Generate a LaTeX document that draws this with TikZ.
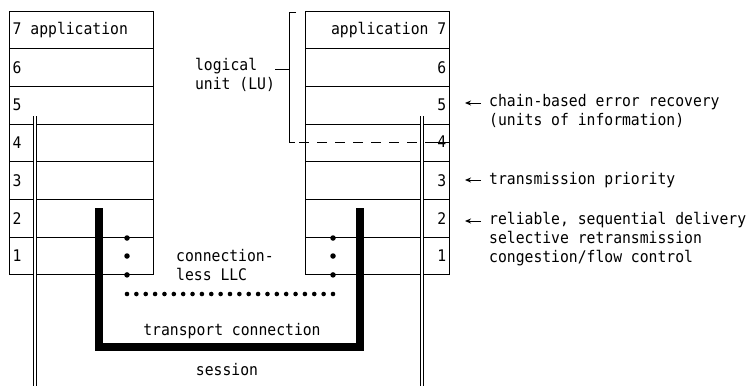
\documentclass[tikz,border=0pt]{standalone}
\usepackage{fontspec}
\newfontfamily\monofont[FakeStretch=0.92]{DejaVu Sans Mono}
\usetikzlibrary{arrows.meta}
\tikzset{
  txt/.style={font=\monofont\fontsize{16}{19}\selectfont, inner sep=0pt, align=left},
  layer/.style={draw, line width=1pt, minimum width=144pt, minimum height=37.7pt, inner sep=0pt},
  dbl/.style={double, double distance=1.3pt, line width=1.3pt},
  thick U/.style={line width=7.5pt, line join=miter, line cap=butt},
  dotmark/.style={fill, circle, inner sep=0pt, minimum size=5.5pt},
  smalldot/.style={fill, circle, inner sep=0pt, minimum size=4.6pt},
  pointer/.style={-{Stealth[length=6pt,width=5pt]}, line width=1pt},
  rule/.style={line width=1pt}
}
\begin{document}
\begin{tikzpicture}[x=1pt,y=-1pt]
\useasboundingbox (0,0) rectangle (751,386);
% layer stacks
\foreach \i in {1,...,7}{
  \node[layer] (L\i) at (81, {11+(7-\i+0.5)*37.7}) {};
  \node[layer] (R\i) at (377, {11+(7-\i+0.5)*37.7}) {};
}
% left labels
\node[txt, anchor=west] (l7) at ([xshift=4pt]L7.west) {7 application};
\foreach \i in {1,...,6}{
  \node[txt, anchor=west] (l\i) at ([xshift=4pt]L\i.west) {\i};
}
% right labels
\node[txt, anchor=east] (r7) at ([xshift=-3pt]R7.east) {application 7};
\foreach \i in {1,2,3,5,6}{
  \node[txt, anchor=east] (r\i) at ([xshift=-3pt]R\i.east) {\i};
}
% logical unit bracket and dashed boundary
\coordinate (bt) at (296,12);
\coordinate (btl) at (289,12);
\coordinate (bb) at (289,142);
\coordinate (bbr) at (295,142);
\coordinate (dsA) at (299,142);
\coordinate (dsB) at (420,142);
\coordinate (dsC) at (425,142);
\coordinate (dsD) at (449,142);
\draw[rule] (bt) -- (btl) -- (bb) -- (bbr);
\draw[rule, dash pattern=on 10pt off 8pt] (dsA) -- (dsB);
\draw[rule] (dsC) -- (dsD);
\node[txt, anchor=east] (r4) at ([xshift=-3pt]R4.east |- dsD) {4};
\node[txt] (lu) at (235,75) {logical\\unit (LU)};
\coordinate (luA) at (275,69);
\coordinate (luB) at (289,69);
\draw[rule] (luA) -- (luB);
% session double lines
\coordinate (sLt) at (35,116);
\coordinate (sLb) at (35,386);
\coordinate (sRt) at (422,116);
\coordinate (sRb) at (422,386);
\draw[dbl] (sLt) -- (sLb);
\draw[dbl] (sRt) -- (sRb);
% transport connection U
\coordinate (tL) at (99,208);
\coordinate (tB) at (360,347);
\coordinate (tR) at (360,208);
\draw[thick U] (tL) |- (tB) -- (tR);
% connectionless dots
\foreach \y/\n in {238/a,256/b,274.9/c}{
  \node[dotmark] (dl\n) at (127,\y) {};
  \node[dotmark] (dr\n) at (333,\y) {};
}
\foreach \k in {0,...,22}{
  \node[smalldot] at ({127+\k*206/22},294) {};
}
\node[txt, anchor=west] (llc) at (176,265) {connection-\\less LLC};
\node[txt] (tc) at (232,331) {transport connection};
\node[txt] (sess) at (227,370) {session};
% right annotations
\coordinate (a5s) at (481,103);
\coordinate (a5e) at (465,103);
\coordinate (a3s) at (481,180);
\coordinate (a3e) at (465,180);
\coordinate (a2s) at (481,221);
\coordinate (a2e) at (465,221);
\draw[pointer] (a5s) -- (a5e);
\draw[pointer] (a3s) -- (a3e);
\draw[pointer] (a2s) -- (a2e);
\node[txt, anchor=north west] (n5) at (489,94) {chain-based error recovery\\(units of information)};
\node[txt, anchor=west] (n3) at (489,180) {transmission priority};
\node[txt, anchor=north west] (n2) at (489,212) {reliable, sequential delivery\\selective retransmission\\congestion/flow control};
\end{tikzpicture}
\end{document}
